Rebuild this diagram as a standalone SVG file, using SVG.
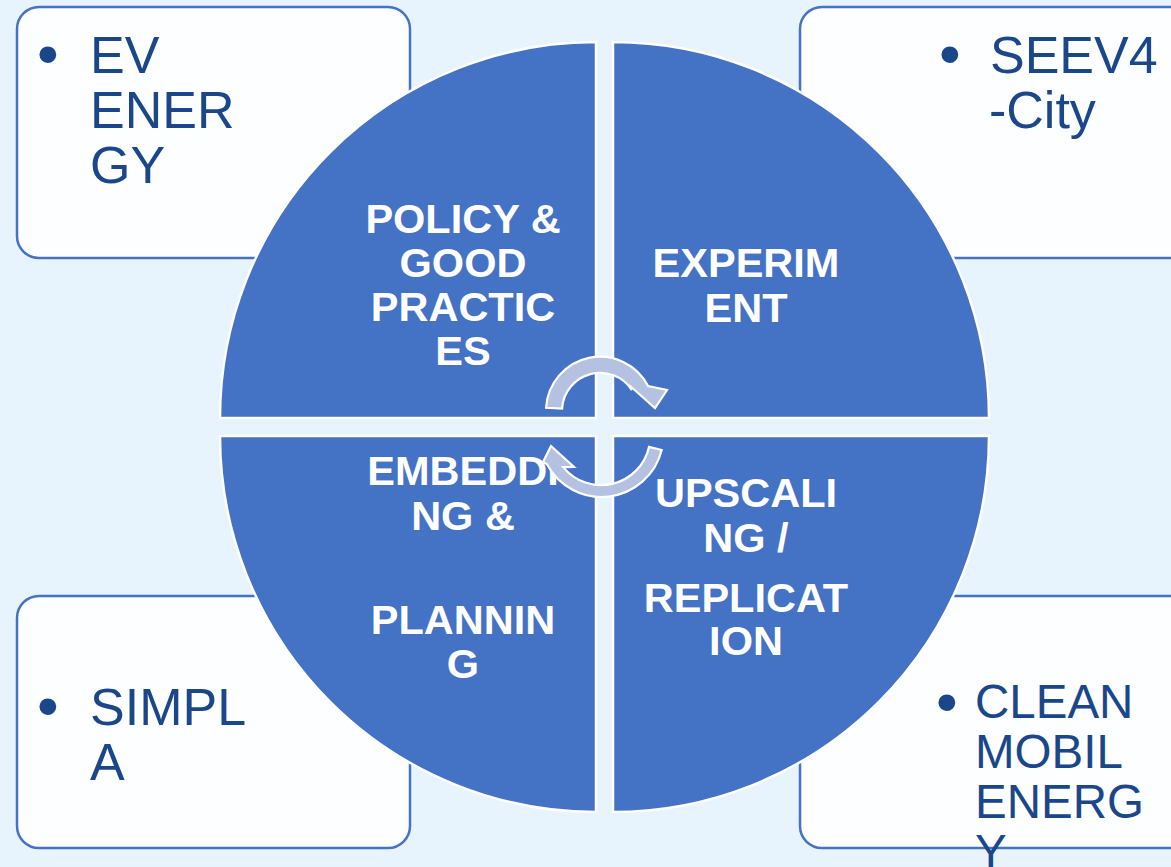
<svg xmlns="http://www.w3.org/2000/svg" width="1171" height="867" viewBox="0 0 1171 867">
<style>
.box{fill:#FDFEFF;stroke:#4472C4;stroke-width:2.5}
.quad{fill:#4472C4;stroke:#FFFFFF;stroke-width:2.5}
.qt{font-family:"Liberation Sans",Arial,sans-serif;font-weight:bold;font-size:41.5px;fill:#FFFFFF;text-anchor:middle}
.bt{font-family:"Liberation Sans",Arial,sans-serif;font-size:52px;fill:#1A4789}
.bt2{font-family:"Liberation Sans",Arial,sans-serif;font-size:47.5px;fill:#1A4789}
.bul{font-family:"Liberation Sans",Arial,sans-serif;font-size:62px;fill:#1A4789}
.arr{fill:#B4C1E1;stroke:#FFFFFF;stroke-width:2.2;stroke-linejoin:miter}
</style>
<rect x="0" y="0" width="1171" height="867" fill="#E8F4FD"/>

<g id="box-ev-energy">
<rect class="box" x="17" y="7" width="393" height="251" rx="22"/>
<text class="bul" x="37" y="75">•</text>
<text class="bt" x="90" y="73">EV</text>
<text class="bt" x="90" y="128">ENER</text>
<text class="bt" x="90" y="183">GY</text>
</g>

<g id="box-seev4-city">
<rect class="box" x="800" y="7" width="430" height="251" rx="22"/>
<text class="bul" x="939" y="75">•</text>
<text class="bt" x="990" y="73">SEEV4</text>
<text class="bt" x="989" y="128">-City</text>
</g>

<g id="box-simpla">
<rect class="box" x="17" y="596" width="393" height="252" rx="22"/>
<text class="bul" x="37" y="727">•</text>
<text class="bt" x="90" y="725">SIMPL</text>
<text class="bt" x="90" y="780">A</text>
</g>

<g id="box-clean-mobil-energy">
<rect class="box" x="800" y="596" width="430" height="252" rx="22"/>
<text class="bul" x="936" y="723">•</text>
<text class="bt2" x="975" y="718">CLEAN</text>
<text class="bt2" x="975" y="768">MOBIL</text>
<text class="bt2" x="975" y="818">ENERG</text>
<text class="bt2" x="975" y="868">Y</text>
</g>

<g id="quad-policy">
<path class="quad" d="M 596 418 L 220 418 A 376 376 0 0 1 596 42 Z"/>
<text class="qt" x="463" y="233">POLICY &amp;</text>
<text class="qt" x="463" y="277">GOOD</text>
<text class="qt" x="463" y="321">PRACTIC</text>
<text class="qt" x="463" y="365">ES</text>
</g>

<g id="quad-experiment">
<path class="quad" d="M 613 418 L 613 42 A 376 376 0 0 1 989 418 Z"/>
<text class="qt" x="746" y="277">EXPERIM</text>
<text class="qt" x="746" y="322">ENT</text>
</g>

<g id="quad-embedding">
<path class="quad" d="M 596 436 L 596 812 A 376 376 0 0 1 220 436 Z"/>
<text class="qt" x="463" y="485">EMBEDDI</text>
<text class="qt" x="463" y="530">NG &amp;</text>
<text class="qt" x="463" y="634">PLANNIN</text>
<text class="qt" x="463" y="678">G</text>
</g>

<g id="quad-upscaling">
<path class="quad" d="M 613 436 L 989 436 A 376 376 0 0 1 613 812 Z"/>
<text class="qt" x="746" y="507">UPSCALI</text>
<text class="qt" x="746" y="552">NG /</text>
<text class="qt" x="746" y="612">REPLICAT</text>
<text class="qt" x="746" y="655">ION</text>
</g>

<g id="connectors">
<path class="arr" d="M 546.1 407.8 A 54 54 0 0 1 648.1 386.1 L 667 390 L 655 408 L 629 385 L 631.9 390.1 A 38 38 0 0 0 562.1 408.6 Z"/>
<path class="arr" d="M 661.7 450 A 62 62 0 0 1 546.8 464.1 L 543 462 L 551 446 L 574 467 L 563.2 467.1 A 49 49 0 0 0 649 446.9 Z"/>
</g>
</svg>
